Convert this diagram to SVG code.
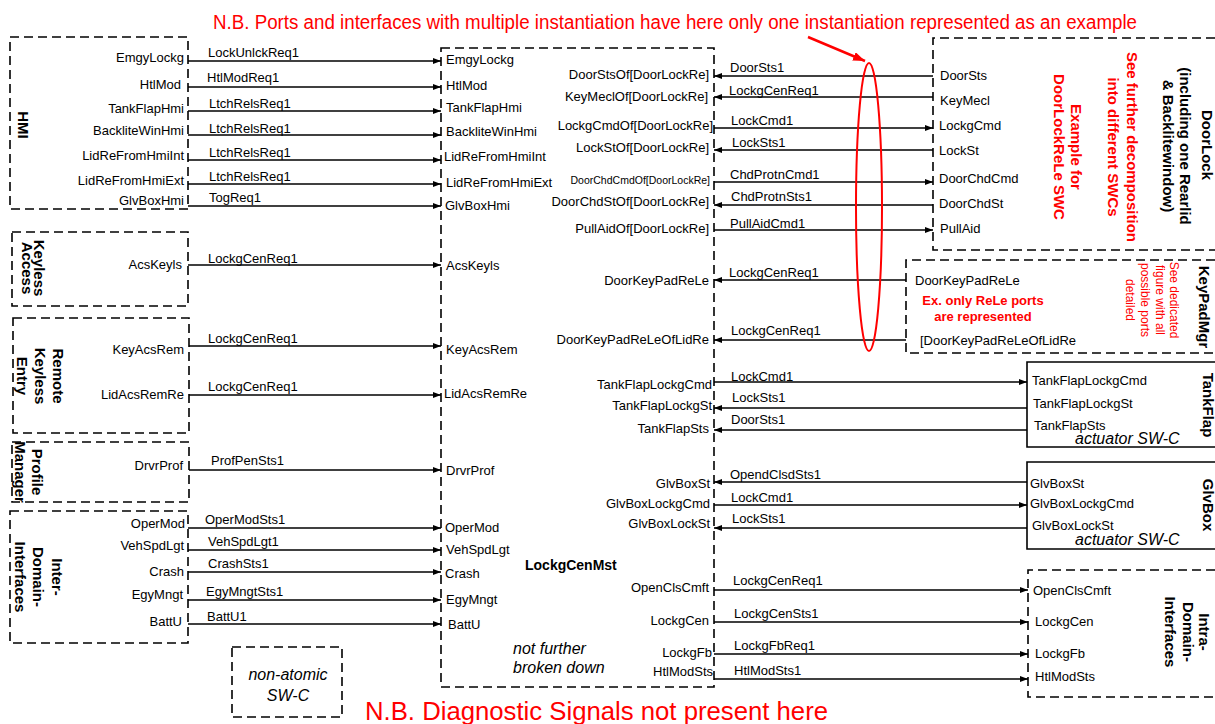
<svg xmlns="http://www.w3.org/2000/svg" width="1215" height="724" viewBox="0 0 1215 724">
  <style>
    text { font-family: "Liberation Sans", Arial, sans-serif; fill: #000; }
    .p { font-size: 13px; }
    .ps { font-size: 10.5px; }
    .r { text-anchor: end; }
    .m { text-anchor: middle; }
    .b { font-size: 15px; font-weight: bold; }
    .it { font-size: 16px; font-style: italic; }
    .red { fill: #ff0000; }
    .dash { fill: none; stroke: #000; stroke-width: 1.6; stroke-dasharray: 9 5; }
    .solid { fill: #fff; stroke: #000; stroke-width: 1.6; }
    .w { stroke: #000; stroke-width: 1.5; fill: none; marker-end: url(#ah); }
  </style>
  <defs>
    <marker id="ah" markerWidth="8" markerHeight="6" refX="8" refY="3" orient="auto" markerUnits="userSpaceOnUse">
      <path d="M0,0 L8,3 L0,6 z" fill="#000"/>
    </marker>
    <marker id="ahr" markerWidth="12" markerHeight="9" refX="12" refY="4.5" orient="auto" markerUnits="userSpaceOnUse">
      <path d="M0,0 L12,4.5 L0,9 z" fill="#ff0000"/>
    </marker>
  </defs>
  <rect width="1215" height="724" fill="#fff"/>

  <!-- notes -->
  <text x="213" y="29" font-size="20" class="red" textLength="924" lengthAdjust="spacingAndGlyphs">N.B. Ports and interfaces with multiple instantiation have here only one instantiation represented as an example</text>
  <text x="365" y="720" font-size="25" class="red" textLength="463" lengthAdjust="spacingAndGlyphs">N.B. Diagnostic Signals not present here</text>

  <!-- HMI -->
  <g id="hmi">
    <rect class="dash" x="10" y="37" width="178" height="172"/>
    <text class="b" transform="translate(18,125) rotate(90)" text-anchor="middle">HMI</text>
    <text class="p r" x="184" y="62">EmgyLockg</text>
    <text class="p r" x="181" y="89">HtlMod</text>
    <text class="p r" x="184" y="113">TankFlapHmi</text>
    <text class="p r" x="184" y="135">BackliteWinHmi</text>
    <text class="p r" x="184" y="160">LidReFromHmiInt</text>
    <text class="p r" x="184" y="185">LidReFromHmiExt</text>
    <text class="p r" x="184" y="205">GlvBoxHmi</text>
  </g>

  <g id="keyless-access">
    <rect class="dash" x="12" y="232" width="176" height="74"/>
    <text class="b" transform="translate(34,268) rotate(90)" text-anchor="middle">Keyless</text>
    <text class="b" transform="translate(22,268) rotate(90)" text-anchor="middle">Access</text>
    <text class="p r" x="182" y="269">AcsKeyls</text>
  </g>

  <g id="remote-keyless-entry">
    <rect class="dash" x="13" y="318" width="176" height="115"/>
    <text class="b" transform="translate(53,376) rotate(90)" text-anchor="middle">Remote</text>
    <text class="b" transform="translate(35,376) rotate(90)" text-anchor="middle">Keyless</text>
    <text class="b" transform="translate(17,376) rotate(90)" text-anchor="middle">Entry</text>
    <text class="p r" x="184" y="354">KeyAcsRem</text>
    <text class="p r" x="184" y="399">LidAcsRemRe</text>
  </g>

  <g id="profile-manager">
    <rect class="dash" x="12" y="442" width="177" height="60"/>
    <text class="b" transform="translate(32,472) rotate(90)" text-anchor="middle">Profile</text>
    <text class="b" transform="translate(15,472) rotate(90)" text-anchor="middle">Manager</text>
    <text class="p r" x="183" y="470">DrvrProf</text>
  </g>

  <g id="inter-domain-interfaces">
    <rect class="dash" x="10" y="511" width="178" height="132"/>
    <text class="b" transform="translate(52,577) rotate(90)" text-anchor="middle">Inter-</text>
    <text class="b" transform="translate(33,577) rotate(90)" text-anchor="middle">Domain-</text>
    <text class="b" transform="translate(15,577) rotate(90)" text-anchor="middle">Interfaces</text>
    <text class="p r" x="185" y="528">OperMod</text>
    <text class="p r" x="184" y="550">VehSpdLgt</text>
    <text class="p r" x="184" y="576">Crash</text>
    <text class="p r" x="183" y="599">EgyMngt</text>
    <text class="p r" x="182" y="626">BattU</text>
  </g>

  <g id="legend-non-atomic">
    <rect class="dash" x="232" y="647" width="110" height="70"/>
    <text class="it m" x="288" y="680">non-atomic</text>
    <text class="it m" x="288" y="701">SW-C</text>
  </g>

  <!-- central composition -->
  <g id="lockgcenmst">
    <rect class="dash" x="441" y="48" width="273" height="639"/>
    <text x="525" y="570" font-size="14" font-weight="bold">LockgCenMst</text>
    <text class="it" x="513" y="654">not further</text>
    <text class="it" x="513" y="673">broken down</text>
    <text class="p" x="446" y="64">EmgyLockg</text>
    <text class="p" x="446" y="90">HtlMod</text>
    <text class="p" x="446" y="112">TankFlapHmi</text>
    <text class="p" x="446" y="136">BackliteWinHmi</text>
    <text class="p" x="444" y="161">LidReFromHmiInt</text>
    <text class="p" x="446" y="187">LidReFromHmiExt</text>
    <text class="p" x="445" y="210">GlvBoxHmi</text>
    <text class="p" x="446" y="270">AcsKeyls</text>
    <text class="p" x="446" y="354">KeyAcsRem</text>
    <text class="p" x="444" y="398">LidAcsRemRe</text>
    <text class="p" x="446" y="475">DrvrProf</text>
    <text class="p" x="445" y="532">OperMod</text>
    <text class="p" x="446" y="554">VehSpdLgt</text>
    <text class="p" x="445" y="578">Crash</text>
    <text class="p" x="446" y="604">EgyMngt</text>
    <text class="p" x="448" y="629">BattU</text>
    <text class="p r" x="709" y="79">DoorStsOf[DoorLockRe]</text>
    <text class="p r" x="708" y="101">KeyMeclOf[DoorLockRe]</text>
    <text class="p r" x="713" y="130">LockgCmdOf[DoorLockRe]</text>
    <text class="p r" x="709" y="152">LockStOf[DoorLockRe]</text>
    <text class="ps r" x="710" y="184">DoorChdCmdOf[DoorLockRe]</text>
    <text class="p r" x="709" y="206">DoorChdStOf[DoorLockRe]</text>
    <text class="p r" x="709" y="233">PullAidOf[DoorLockRe]</text>
    <text class="p r" x="709" y="285">DoorKeyPadReLe</text>
    <text class="p r" x="709" y="344">DoorKeyPadReLeOfLidRe</text>
    <text class="p r" x="712" y="389">TankFlapLockgCmd</text>
    <text class="p r" x="712" y="410">TankFlapLockgSt</text>
    <text class="p r" x="709" y="433">TankFlapSts</text>
    <text class="p r" x="710" y="488">GlvBoxSt</text>
    <text class="p r" x="710" y="508">GlvBoxLockgCmd</text>
    <text class="p r" x="710" y="528">GlvBoxLockSt</text>
    <text class="p r" x="709" y="592">OpenClsCmft</text>
    <text class="p r" x="709" y="625">LockgCen</text>
    <text class="p r" x="712" y="657">LockgFb</text>
    <text class="p r" x="713" y="676">HtlModSts</text>
  </g>

  <!-- right hand components -->
  <g id="doorlock">
    <path class="dash" d="M1215,38 H933 V250 H1215"/>
    <text class="b" transform="translate(1202,145) rotate(90)" text-anchor="middle">DoorLock</text>
    <text class="b" transform="translate(1180,146) rotate(90)" text-anchor="middle">(including one Rearlid</text>
    <text class="b" transform="translate(1163,146) rotate(90)" text-anchor="middle">&amp; Backlitewindow)</text>
    <text class="b red" transform="translate(1127,147) rotate(90)" text-anchor="middle">See further decomposition</text>
    <text class="b red" transform="translate(1108,147) rotate(90)" text-anchor="middle">into different SWCs</text>
    <text class="b red" transform="translate(1071,147) rotate(90)" text-anchor="middle">Example for</text>
    <text class="b red" transform="translate(1054,147) rotate(90)" text-anchor="middle">DoorLockReLe SWC</text>
    <text class="p" x="940" y="80">DoorSts</text>
    <text class="p" x="940" y="105">KeyMecl</text>
    <text class="p" x="939" y="130">LockgCmd</text>
    <text class="p" x="939" y="155">LockSt</text>
    <text class="p" x="939" y="183">DoorChdCmd</text>
    <text class="p" x="939" y="208">DoorChdSt</text>
    <text class="p" x="940" y="233">PullAid</text>
  </g>

  <g id="keypadmgr">
    <path class="dash" d="M1215,260 H906 V353 H1215"/>
    <text class="b" transform="translate(1199,307) rotate(90)" text-anchor="middle">KeyPadMgr</text>
    <text class="red" font-size="12" transform="translate(1170,300) rotate(90)" text-anchor="middle">See dedicated</text>
    <text class="red" font-size="12" transform="translate(1156,300) rotate(90)" text-anchor="middle">figure with all</text>
    <text class="red" font-size="12" transform="translate(1141,300) rotate(90)" text-anchor="middle">possible ports</text>
    <text class="red" font-size="12" transform="translate(1126,300) rotate(90)" text-anchor="middle">detailed</text>
    <text class="p" x="915" y="285">DoorKeyPadReLe</text>
    <text class="red m" x="983" y="305" font-size="13" font-weight="bold">Ex. only ReLe ports</text>
    <text class="red m" x="983" y="321" font-size="13" font-weight="bold">are represented</text>
    <text class="p" x="920" y="345">[DoorKeyPadReLeOfLidRe</text>
  </g>

  <g id="tankflap">
    <path class="solid" d="M1215,362 H1027 V447 H1215"/>
    <text class="b" transform="translate(1203,405) rotate(90)" text-anchor="middle">TankFlap</text>
    <text class="p" x="1032" y="385">TankFlapLockgCmd</text>
    <text class="p" x="1033" y="408">TankFlapLockgSt</text>
    <text class="p" x="1034" y="430">TankFlapSts</text>
    <text class="it" x="1075" y="444">actuator SW-C</text>
  </g>

  <g id="glvbox">
    <path class="solid" d="M1215,462 H1027 V549 H1215"/>
    <text class="b" transform="translate(1203,505) rotate(90)" text-anchor="middle">GlvBox</text>
    <text class="p" x="1030" y="488">GlvBoxSt</text>
    <text class="p" x="1030" y="508">GlvBoxLockgCmd</text>
    <text class="p" x="1032" y="530">GlvBoxLockSt</text>
    <text class="it" x="1075" y="545">actuator SW-C</text>
  </g>

  <g id="intra-domain-interfaces">
    <path class="dash" d="M1215,570 H1028 V697 H1215"/>
    <text class="b" transform="translate(1199,632) rotate(90)" text-anchor="middle">Intra-</text>
    <text class="b" transform="translate(1183,632) rotate(90)" text-anchor="middle">Domain-</text>
    <text class="b" transform="translate(1165,632) rotate(90)" text-anchor="middle">Interfaces</text>
    <text class="p" x="1033" y="595">OpenClsCmft</text>
    <text class="p" x="1035" y="626">LockgCen</text>
    <text class="p" x="1035" y="658">LockgFb</text>
    <text class="p" x="1035" y="681">HtlModSts</text>
  </g>

  <!-- port connectors with their data element labels -->
  <g id="connectors">
    <line class="w" x1="188" y1="61" x2="441" y2="61"/>
    <line class="w" x1="188" y1="87" x2="441" y2="87"/>
    <line class="w" x1="188" y1="111" x2="441" y2="111"/>
    <line class="w" x1="188" y1="135" x2="441" y2="135"/>
    <line class="w" x1="188" y1="160" x2="441" y2="160"/>
    <line class="w" x1="188" y1="184" x2="441" y2="184"/>
    <line class="w" x1="188" y1="206" x2="441" y2="206"/>
    <line class="w" x1="188" y1="265" x2="441" y2="265"/>
    <line class="w" x1="189" y1="346" x2="441" y2="346"/>
    <line class="w" x1="189" y1="395" x2="441" y2="395"/>
    <line class="w" x1="189" y1="470" x2="441" y2="470"/>
    <line class="w" x1="188" y1="528" x2="441" y2="528"/>
    <line class="w" x1="188" y1="550" x2="441" y2="550"/>
    <line class="w" x1="188" y1="572" x2="441" y2="572"/>
    <line class="w" x1="188" y1="600" x2="441" y2="600"/>
    <line class="w" x1="188" y1="624" x2="441" y2="624"/>
    <text class="p" x="208" y="57">LockUnlckReq1</text>
    <text class="p" x="207" y="82">HtlModReq1</text>
    <text class="p" x="209" y="108">LtchRelsReq1</text>
    <text class="p" x="209" y="133">LtchRelsReq1</text>
    <text class="p" x="209" y="157">LtchRelsReq1</text>
    <text class="p" x="209" y="181">LtchRelsReq1</text>
    <text class="p" x="209" y="202">TogReq1</text>
    <text class="p" x="208" y="263">LockgCenReq1</text>
    <text class="p" x="208" y="343">LockgCenReq1</text>
    <text class="p" x="208" y="391">LockgCenReq1</text>
    <text class="p" x="211" y="465">ProfPenSts1</text>
    <text class="p" x="205" y="524">OperModSts1</text>
    <text class="p" x="208" y="546">VehSpdLgt1</text>
    <text class="p" x="208" y="568">CrashSts1</text>
    <text class="p" x="206" y="596">EgyMngtSts1</text>
    <text class="p" x="207" y="621">BattU1</text>

    <line class="w" x1="933" y1="76" x2="714" y2="76"/>
    <line class="w" x1="933" y1="97" x2="714" y2="97"/>
    <line class="w" x1="714" y1="128" x2="933" y2="128"/>
    <line class="w" x1="933" y1="150" x2="714" y2="150"/>
    <line class="w" x1="714" y1="182" x2="933" y2="182"/>
    <line class="w" x1="933" y1="205" x2="714" y2="205"/>
    <line class="w" x1="714" y1="230" x2="933" y2="230"/>
    <line class="w" x1="906" y1="280" x2="714" y2="280"/>
    <line class="w" x1="906" y1="340" x2="714" y2="340"/>
    <line class="w" x1="714" y1="382" x2="1027" y2="382"/>
    <line class="w" x1="1027" y1="408" x2="714" y2="408"/>
    <line class="w" x1="1027" y1="430" x2="714" y2="430"/>
    <line class="w" x1="1027" y1="482" x2="714" y2="482"/>
    <line class="w" x1="714" y1="505" x2="1027" y2="505"/>
    <line class="w" x1="1027" y1="528" x2="714" y2="528"/>
    <line class="w" x1="714" y1="590" x2="1028" y2="590"/>
    <line class="w" x1="714" y1="622" x2="1028" y2="622"/>
    <line class="w" x1="714" y1="654" x2="1028" y2="654"/>
    <line class="w" x1="714" y1="679" x2="1028" y2="679"/>
    <text class="p" x="730" y="72">DoorSts1</text>
    <text class="p" x="729" y="95">LockgCenReq1</text>
    <text class="p" x="731" y="125">LockCmd1</text>
    <text class="p" x="732" y="147">LockSts1</text>
    <text class="p" x="730" y="179">ChdProtnCmd1</text>
    <text class="p" x="731" y="201">ChdProtnSts1</text>
    <text class="p" x="730" y="228">PullAidCmd1</text>
    <text class="p" x="729" y="277">LockgCenReq1</text>
    <text class="p" x="731" y="335">LockgCenReq1</text>
    <text class="p" x="731" y="381">LockCmd1</text>
    <text class="p" x="732" y="402">LockSts1</text>
    <text class="p" x="731" y="424">DoorSts1</text>
    <text class="p" x="730" y="479">OpendClsdSts1</text>
    <text class="p" x="731" y="502">LockCmd1</text>
    <text class="p" x="732" y="523">LockSts1</text>
    <text class="p" x="733" y="585">LockgCenReq1</text>
    <text class="p" x="734" y="618">LockgCenSts1</text>
    <text class="p" x="734" y="650">LockgFbReq1</text>
    <text class="p" x="734" y="675">HtlModSts1</text>
  </g>

  <!-- highlight of the multiply instantiated ports -->
  <g id="annotation">
    <ellipse cx="869" cy="207" rx="13" ry="144" fill="none" stroke="#ff0000" stroke-width="2"/>
    <line x1="808" y1="37" x2="865" y2="61" stroke="#ff0000" stroke-width="2.5" marker-end="url(#ahr)"/>
  </g>
</svg>
